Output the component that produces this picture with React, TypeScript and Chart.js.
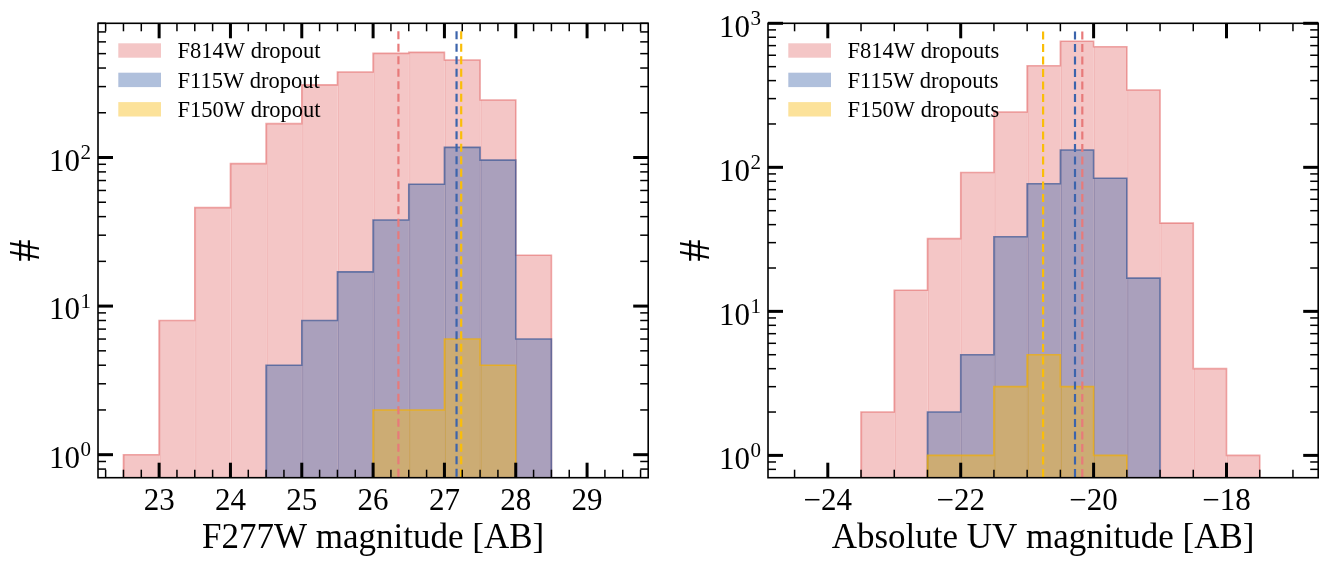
import { useEffect, useRef } from "react";
import { Chart, registerables } from "chart.js";

Chart.register(...registerables);

// ---- F277W apparent magnitude histograms (0.5 mag bins) ----
const magEdges = [22.5, 23, 23.5, 24, 24.5, 25, 25.5, 26, 26.5, 27, 27.5, 28, 28.5];
const magCountsF814W = [1, 8, 46, 91, 169, 308, 376, 502, 510, 453, 244, 22];
const magCountsF115W = [0, 0, 0, 0, 4, 8, 17, 38, 66, 117, 96, 6];
const magCountsF150W = [0, 0, 0, 0, 0, 0, 0, 2, 2, 6, 4, 0];
const magMedianF814W = 26.355;
const magMedianF115W = 27.17;
const magMedianF150W = 27.235;
const magXTicks = [23, 24, 25, 26, 27, 28, 29];
const magYTicks = [1, 10, 100];

// ---- Absolute UV magnitude histograms (0.5 mag bins) ----
const muvEdges = [-23.5, -23, -22.5, -22, -21.5, -21, -20.5, -20, -19.5, -19, -18.5, -18, -17.5];
const muvCountsF814W = [2, 14, 32, 92, 242, 507, 751, 687, 344, 41, 4, 1];
const muvCountsF115W = [0, 0, 2, 5, 33, 77, 132, 84, 17, 0, 0, 0];
const muvCountsF150W = [0, 0, 1, 1, 3, 5, 3, 1, 0, 0, 0, 0];
const muvMedianF814W = -20.17;
const muvMedianF115W = -20.28;
const muvMedianF150W = -20.76;
const muvXTicks = [-24, -22, -20, -18];
const muvYTicks = [1, 10, 100, 1000];

const SERIF = '"Liberation Serif", "DejaVu Serif", serif';

type Style = { fill: string; edge: string; inner: string; dash: string };
const RED: Style = {
  fill: "rgba(230,124,124,0.43)",
  edge: "rgba(226,96,96,0.55)",
  inner: "rgba(226,96,96,0.28)",
  dash: "rgb(232,122,122)",
};
const BLUE: Style = {
  fill: "rgba(75,112,175,0.44)",
  edge: "rgba(55,85,150,0.7)",
  inner: "rgba(55,85,150,0.3)",
  dash: "rgb(60,100,172)",
};
const GOLD: Style = {
  fill: "rgba(248,187,20,0.43)",
  edge: "rgba(240,175,10,0.75)",
  inner: "rgba(240,175,10,0.35)",
  dash: "rgb(250,190,8)",
};

type Series = { label: string; counts: number[]; median: number; style: Style };
type PanelCfg = {
  edges: number[];
  series: Series[];
  xMin: number;
  xMax: number;
  yMin: number;
  yMax: number;
  xTicks: number[];
  xMinorStep: number;
  yTicks: number[];
  xTitle: string;
  dashTop: number;
};

const magPanel: PanelCfg = {
  edges: magEdges,
  series: [
    { label: "F814W dropout", counts: magCountsF814W, median: magMedianF814W, style: RED },
    { label: "F115W dropout", counts: magCountsF115W, median: magMedianF115W, style: BLUE },
    { label: "F150W dropout", counts: magCountsF150W, median: magMedianF150W, style: GOLD },
  ],
  xMin: 22.143,
  xMax: 29.857,
  yMin: 0.711,
  yMax: 800,
  xTicks: magXTicks,
  xMinorStep: 0.25,
  yTicks: magYTicks,
  xTitle: "F277W magnitude [AB]",
  dashTop: 742,
};

const muvPanel: PanelCfg = {
  edges: muvEdges,
  series: [
    { label: "F814W dropouts", counts: muvCountsF814W, median: muvMedianF814W, style: RED },
    { label: "F115W dropouts", counts: muvCountsF115W, median: muvMedianF115W, style: BLUE },
    { label: "F150W dropouts", counts: muvCountsF150W, median: muvMedianF150W, style: GOLD },
  ],
  xMin: -24.9,
  xMax: -16.62,
  yMin: 0.707,
  yMax: 1000,
  xTicks: muvXTicks,
  xMinorStep: 0.5,
  yTicks: muvYTicks,
  xTitle: "Absolute UV magnitude [AB]",
  dashTop: 925,
};

// Filled bars, one per non-empty bin, with a faint line on the left edge
function histBars(edges: number[], s: Series, order: number) {
  const data: { x: number; y: number }[] = [];
  s.counts.forEach((c, i) => {
    if (c > 0) data.push({ x: (edges[i] + edges[i + 1]) / 2, y: c });
  });
  return {
    type: "bar" as const,
    data,
    backgroundColor: s.style.fill,
    borderColor: s.style.inner,
    borderWidth: { left: 1, right: 0, top: 0, bottom: 0 },
    borderSkipped: false,
    grouped: false,
    barPercentage: 1,
    categoryPercentage: 1,
    order,
  };
}

// Step outline around the histogram
function histOutline(edges: number[], s: Series, floor: number, order: number) {
  const first = s.counts.findIndex((c) => c > 0);
  let last = s.counts.length - 1;
  while (last > 0 && s.counts[last] <= 0) last--;
  const pts: { x: number; y: number }[] = [{ x: edges[first], y: floor }];
  for (let i = first; i <= last; i++) pts.push({ x: edges[i], y: s.counts[i] });
  pts.push({ x: edges[last + 1], y: s.counts[last] });
  pts.push({ x: edges[last + 1], y: floor });
  return {
    type: "line" as const,
    data: pts,
    stepped: true,
    borderColor: s.style.edge,
    borderWidth: 1.6,
    pointRadius: 0,
    fill: false,
    order,
  };
}

function medianLine(s: Series, floor: number, top: number, order: number) {
  return {
    type: "line" as const,
    data: [
      { x: s.median, y: floor },
      { x: s.median, y: top },
    ],
    borderColor: s.style.dash,
    borderWidth: 2.2,
    borderDash: [8, 4.5],
    pointRadius: 0,
    fill: false,
    order,
  };
}

function decorPlugin(p: PanelCfg) {
  return {
    id: "decor",
    afterDraw(chart: any) {
      const ctx: CanvasRenderingContext2D = chart.ctx;
      const a = chart.chartArea;
      const xs = chart.scales.x;
      const ys = chart.scales.y;
      ctx.save();

      // legend (no frame)
      ctx.font = `22.5px ${SERIF}`;
      ctx.textAlign = "left";
      ctx.textBaseline = "alphabetic";
      p.series.forEach((s, i) => {
        const cy = a.top + 27.2 + i * 29.4;
        ctx.fillStyle = s.style.fill;
        ctx.fillRect(a.left + 20.3, cy - 7.2, 42.7, 14.4);
        ctx.fillStyle = "#000";
        ctx.fillText(s.label, a.left + 79.5, cy + 7.6);
      });

      // ticks on all four sides, pointing inward
      ctx.strokeStyle = "#000";
      ctx.lineCap = "butt";
      const seg = (x1: number, y1: number, x2: number, y2: number, w: number) => {
        ctx.beginPath();
        ctx.lineWidth = w;
        ctx.moveTo(x1, y1);
        ctx.lineTo(x2, y2);
        ctx.stroke();
      };
      const MAJ = 15;
      const MIN = 8;
      const kLo = Math.ceil(p.xMin / p.xMinorStep - 1e-9);
      const kHi = Math.floor(p.xMax / p.xMinorStep + 1e-9);
      for (let k = kLo; k <= kHi; k++) {
        const px = xs.getPixelForValue(k * p.xMinorStep);
        seg(px, a.bottom, px, a.bottom - MIN, 1.5);
        seg(px, a.top, px, a.top + MIN, 1.5);
      }
      p.xTicks.forEach((v) => {
        const px = xs.getPixelForValue(v);
        seg(px, a.bottom, px, a.bottom - MAJ, 3);
        seg(px, a.top, px, a.top + MAJ, 3);
      });
      const dLo = Math.floor(Math.log10(p.yMin));
      const dHi = Math.ceil(Math.log10(p.yMax));
      for (let d = dLo; d <= dHi; d++) {
        for (let m = 2; m <= 9; m++) {
          const v = m * Math.pow(10, d);
          if (v < p.yMin || v > p.yMax) continue;
          const py = ys.getPixelForValue(v);
          seg(a.left, py, a.left + MIN, py, 1.5);
          seg(a.right, py, a.right - MIN, py, 1.5);
        }
      }
      p.yTicks.forEach((v) => {
        const py = ys.getPixelForValue(v);
        seg(a.left, py, a.left + MAJ, py, 3);
        seg(a.right, py, a.right - MAJ, py, 3);
      });

      // frame
      ctx.lineWidth = 1.6;
      ctx.strokeRect(a.left, a.top, a.right - a.left, a.bottom - a.top);

      // x tick labels
      ctx.fillStyle = "#000";
      ctx.font = `31px ${SERIF}`;
      ctx.textAlign = "center";
      ctx.textBaseline = "alphabetic";
      p.xTicks.forEach((v) => {
        const txt = v < 0 ? "\u2212" + Math.abs(v) : String(v);
        ctx.fillText(txt, xs.getPixelForValue(v), a.bottom + 32.5);
      });

      // y tick labels as 10 with a raised exponent
      ctx.textAlign = "right";
      p.yTicks.forEach((v) => {
        const py = ys.getPixelForValue(v);
        const exp = String(Math.round(Math.log10(v)));
        ctx.font = `21px ${SERIF}`;
        const supW = ctx.measureText(exp).width;
        ctx.fillText(exp, a.left - 7, py + 1.8);
        ctx.font = `31px ${SERIF}`;
        ctx.fillText("10", a.left - 7 - supW - 0.5, py + 13.2);
      });

      // x axis title
      ctx.font = `35px ${SERIF}`;
      ctx.textAlign = "center";
      ctx.fillText(p.xTitle, (a.left + a.right) / 2, a.bottom + 70.6);

      // y axis title, rotated
      ctx.font = `44px ${SERIF}`;
      const m = ctx.measureText("#");
      const off = (m.actualBoundingBoxAscent - m.actualBoundingBoxDescent) / 2;
      ctx.translate(a.left - 73.5, (a.top + a.bottom) / 2);
      ctx.rotate(-Math.PI / 2);
      ctx.textAlign = "center";
      ctx.fillText("#", 0, off);

      ctx.restore();
    },
  };
}

function HistPanel({ cfg, left }: { cfg: PanelCfg; left: number }) {
  const ref = useRef<HTMLCanvasElement | null>(null);
  useEffect(() => {
    if (!ref.current) return;
    const floor = cfg.yMin;
    const datasets: any[] = [];
    let order = 100;
    cfg.series.forEach((s) => {
      datasets.push(histBars(cfg.edges, s, order--));
      datasets.push(histOutline(cfg.edges, s, floor, order--));
    });
    cfg.series.forEach((s) => {
      datasets.push(medianLine(s, floor, cfg.dashTop, order--));
    });
    const chart = new Chart(ref.current, {
      type: "bar",
      data: { datasets },
      options: {
        responsive: false,
        animation: false,
        events: [],
        layout: { padding: { left: 98, right: 21.8, top: 23.3, bottom: 84.3 } },
        plugins: { legend: { display: false }, tooltip: { enabled: false } },
        scales: {
          x: {
            type: "linear",
            min: cfg.xMin,
            max: cfg.xMax,
            offset: false,
            display: false,
            ticks: { stepSize: 1, includeBounds: false },
          },
          y: {
            type: "logarithmic",
            min: cfg.yMin,
            max: cfg.yMax,
            display: false,
          },
        },
      },
      plugins: [decorPlugin(cfg)],
    } as any);
    return () => chart.destroy();
  }, [cfg]);
  return (
    <canvas
      ref={ref}
      width={670}
      height={562}
      style={{ position: "absolute", left, top: 0, width: 670, height: 562 }}
    />
  );
}

export default function App() {
  return (
    <div
      style={{
        position: "absolute",
        left: 0,
        top: 0,
        width: 1340,
        height: 562,
        background: "#fff",
      }}
    >
      <HistPanel cfg={magPanel} left={0} />
      <HistPanel cfg={muvPanel} left={670} />
    </div>
  );
}
